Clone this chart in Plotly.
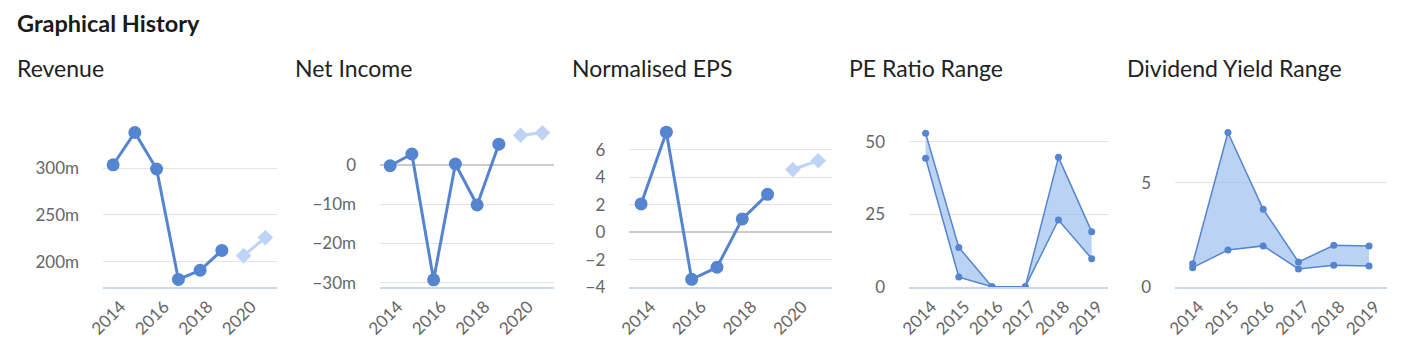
import plotly.graph_objects as go

W, H = 1408, 355
PAD = 8                      # default page body margin
FW, FH = W - 2 * PAD, H - 2 * PAD

# ---------------- data ----------------
fy_dates = ["2013-06-20", "2014-06-20", "2015-06-20", "2016-06-20", "2017-06-20", "2018-06-20"]
fc_dates = ["2019-06-20", "2020-06-20"]

revenue = [303.5, 338, 299, 181, 190.8, 212]          # millions
revenue_fc = [206.4, 225.7]
net_income = [-0.2, 2.8, -29.3, 0.25, -10.2, 5.3]     # millions
net_income_fc = [7.6, 8.2]
eps = [2.07, 7.3, -3.42, -2.54, 0.98, 2.77]
eps_fc = [4.58, 5.22]

range_years = ["2014", "2015", "2016", "2017", "2018", "2019"]
pe_low = [44.3, 3.5, 0.2, 0.2, 23.1, 9.8]
pe_high = [52.9, 13.7, 0.2, 0.2, 44.6, 19.1]
dy_low = [0.94, 1.78, 1.98, 0.88, 1.05, 1.02]
dy_high = [1.13, 7.40, 3.73, 1.21, 2.01, 1.98]

titles = ["Revenue", "Net Income", "Normalised EPS", "PE Ratio Range", "Dividend Yield Range"]

# ---------------- styling ----------------
BLUE = "#5584d0"
LIGHT = "#bed3f5"
FILL = "rgba(160,192,240,0.72)"
GRID = "#e3e3e3"
AXIS = "#ccd6eb"
TICK_FONT = dict(family="Lato", size=17, color="#666666")

def px_x(v):
    return (v - PAD) / FW

def px_y(v):
    return 1 - (v - PAD) / FH

panels_x = [(103, 277), (380, 554), (629.3, 831.7), (909, 1108.3), (1175, 1386.7)]
y_dom = [px_y(287.3), px_y(125)]

fig = go.Figure()

line_sets = [
    (revenue, revenue_fc),
    (net_income, net_income_fc),
    (eps, eps_fc),
]
for i, (vals, fc) in enumerate(line_sets):
    xa = "x" if i == 0 else f"x{i+1}"
    ya = "y" if i == 0 else f"y{i+1}"
    fig.add_trace(go.Scatter(x=fy_dates, y=vals, mode="lines+markers",
                             line=dict(color=BLUE, width=3),
                             marker=dict(size=13, color=BLUE),
                             xaxis=xa, yaxis=ya, showlegend=False, hoverinfo="skip"))
    fig.add_trace(go.Scatter(x=fc_dates, y=fc, mode="lines+markers",
                             line=dict(color=LIGHT, width=3),
                             marker=dict(size=12, color=LIGHT, symbol="diamond"),
                             xaxis=xa, yaxis=ya, showlegend=False, hoverinfo="skip"))

for i, (lo, hi) in enumerate([(pe_low, pe_high), (dy_low, dy_high)]):
    xa = f"x{i+4}"
    ya = f"y{i+4}"
    fig.add_trace(go.Scatter(x=range_years, y=lo, mode="lines+markers",
                             line=dict(color=BLUE, width=1.5),
                             marker=dict(size=7, color=BLUE),
                             xaxis=xa, yaxis=ya, showlegend=False, hoverinfo="skip"))
    fig.add_trace(go.Scatter(x=range_years, y=hi, mode="lines+markers", fill="tonexty",
                             fillcolor=FILL,
                             line=dict(color=BLUE, width=1.5),
                             marker=dict(size=7, color=BLUE),
                             xaxis=xa, yaxis=ya, showlegend=False, hoverinfo="skip"))

y_specs = [
    dict(range=[172.6, 346], tickvals=[200, 250, 300], ticktext=["200m", "250m", "300m"]),
    dict(range=[-31.2, 10.2], tickvals=[-30, -20, -10, 0], ticktext=["−30m", "−20m", "−10m", "0"],
         zeroline=True, zerolinecolor="#cccccc", zerolinewidth=2),
    dict(range=[-4, 7.82], tickvals=[-4, -2, 0, 2, 4, 6], ticktext=["−4", "−2", "0", "2", "4", "6"],
         zeroline=True, zerolinecolor="#cccccc", zerolinewidth=1.5),
    dict(range=[0, 55.7], tickvals=[0, 25, 50], ticktext=["0", "25", "50"]),
    dict(range=[0, 7.76], tickvals=[0, 5], ticktext=["0", "5"]),
]

layout = dict(template="none", width=FW, height=FH, margin=dict(l=0, r=0, t=0, b=0, pad=0),
              autosize=False, paper_bgcolor="white", plot_bgcolor="white", showlegend=False)

for i in range(5):
    xk = "xaxis" if i == 0 else f"xaxis{i+1}"
    yk = "yaxis" if i == 0 else f"yaxis{i+1}"
    xa = "x" if i == 0 else f"x{i+1}"
    ya = "y" if i == 0 else f"y{i+1}"
    x0, x1 = panels_x[i]
    xcfg = dict(domain=[px_x(x0), px_x(x1)], anchor=ya, showgrid=False, zeroline=False,
                showline=True, linecolor=AXIS, linewidth=1.5, ticks="", tickangle=-45,
                tickfont=TICK_FONT, ticklabelstandoff=1, fixedrange=True, automargin=False)
    if i < 3:
        xcfg.update(type="date", range=["2013-01-01", "2021-01-01"], dtick="M24",
                    tick0="2014-01-01", tickformat="%Y", ticklabelshift=-4)
    else:
        xcfg.update(type="category", range=[-0.5, 5.5], ticklabelshift=6)
    ycfg = dict(domain=y_dom, anchor=xa, showgrid=True, gridcolor=GRID, gridwidth=1,
                zeroline=False, showline=False, ticks="", tickfont=TICK_FONT,
                ticklabelstandoff=23, fixedrange=True, automargin=False)
    ycfg.update(y_specs[i])
    layout[xk] = xcfg
    layout[yk] = ycfg

annotations = [dict(text="<b>Graphical History</b>", x=px_x(15), y=px_y(23), xref="paper", yref="paper",
                    xanchor="left", yanchor="middle", showarrow=False,
                    font=dict(family="Lato", size=23.5, color="#1a1a1a"))]
title_x = [15, 293, 570, 847, 1125]
for t, tx in zip(titles, title_x):
    annotations.append(dict(text=t, x=px_x(tx), y=px_y(68), xref="paper", yref="paper",
                            xanchor="left", yanchor="middle", showarrow=False,
                            font=dict(family="Lato", size=23, color="#222222")))
layout["annotations"] = annotations

fig.update_layout(**layout)
fig.write_html("out.html")
